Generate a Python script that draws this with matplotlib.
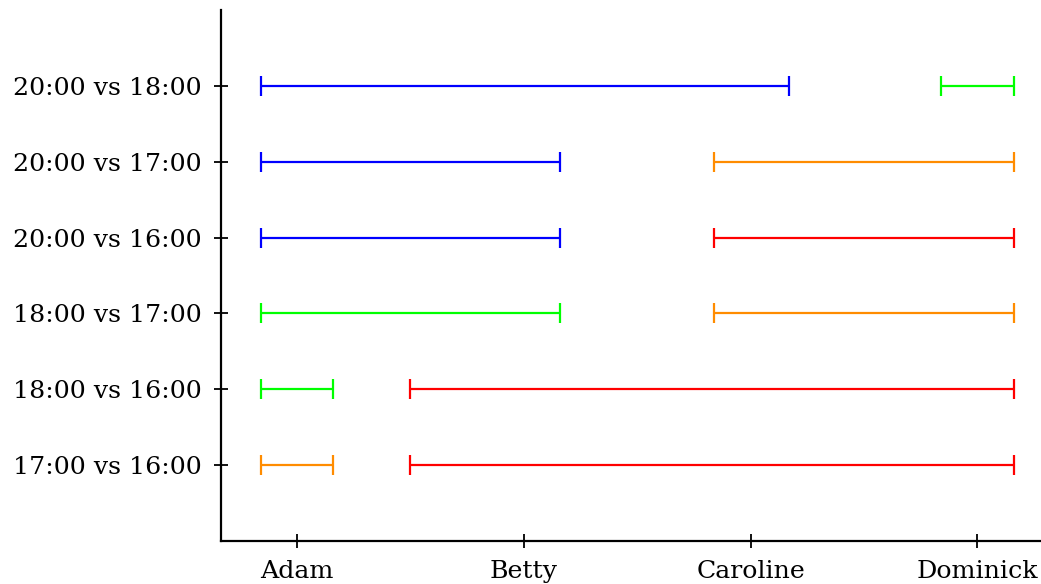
import matplotlib
matplotlib.use("Agg")
import matplotlib.pyplot as plt

people = ["Adam", "Betty", "Caroline", "Dominick"]
pairs = ["17:00 vs 16:00", "18:00 vs 16:00", "18:00 vs 17:00",
         "20:00 vs 16:00", "20:00 vs 17:00", "20:00 vs 18:00"]

# each interval: (row, start, end, colour)
seg_rows = [0, 0, 1, 1, 2, 2, 3, 3, 4, 4, 5, 5]
seg_start = [-0.16, 0.5, -0.16, 0.5, -0.16, 1.84, -0.16, 1.84, -0.16, 1.84, -0.16, 2.84]
seg_end = [0.16, 3.16, 0.16, 3.16, 1.16, 3.16, 1.16, 3.16, 1.16, 3.16, 2.17, 3.16]
seg_colors = ["#ff8c00", "#ff0000", "#00ff00", "#ff0000", "#00ff00", "#ff8c00",
              "#0000ff", "#ff0000", "#0000ff", "#ff8c00", "#0000ff", "#00ff00"]

plt.rcParams["font.family"] = ["DejaVu Serif"]

fig = plt.figure(figsize=(10.41, 5.84), dpi=100)
ax = fig.add_axes([0.2123, 0.0736, 0.7877, 0.9093])

for r, s, e, c in zip(seg_rows, seg_start, seg_end, seg_colors):
    ax.errorbar((s + e) / 2, r, xerr=(e - s) / 2, fmt="none", ecolor=c,
                elinewidth=1.6, capsize=7, capthick=1.6)

ax.set_xlim(-0.335, 3.28)
ax.set_ylim(-1, 6)
ax.set_xticks(range(len(people)))
ax.set_xticklabels(people)
ax.set_yticks(range(len(pairs)))
ax.set_yticklabels(pairs)

for side in ["top", "right"]:
    ax.spines[side].set_visible(False)
for side in ["left", "bottom"]:
    ax.spines[side].set_linewidth(1.6)
ax.tick_params(direction="inout", length=10, width=1.3, labelsize=18.2)
ax.tick_params(axis="y", pad=9)
ax.tick_params(axis="x", pad=9)

fig.savefig("out.png", dpi=100)
